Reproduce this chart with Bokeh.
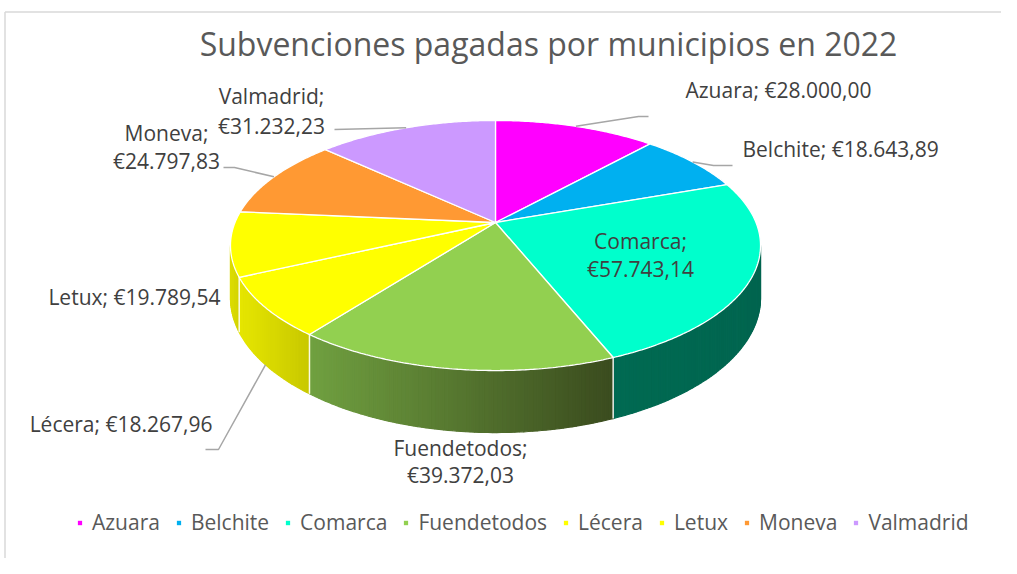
import numpy as np
from bokeh.plotting import figure
from bokeh.models import Range1d, ColumnDataSource, Legend, LegendItem
from bokeh.core.properties import value
from bokeh.embed import file_html
from bokeh.resources import INLINE

# ---------------- data ----------------
title_text = "Subvenciones pagadas por municipios en 2022"
municipios = ["Azuara", "Belchite", "Comarca", "Fuendetodos", "Lécera", "Letux", "Moneva", "Valmadrid"]
importes = [28000.00, 18643.89, 57743.14, 39372.03, 18267.96, 19789.54, 24797.83, 31232.23]

# ---------------- styles ----------------
top_colors = ["#FF00FF", "#00B0F0", "#00FFCC", "#92D050", "#FFFF00", "#FFFF00", "#FF9933", "#CC99FF"]
# side shading (left colour, right colour)
side_colors = [("#B000B0", "#B000B0"), ("#0078A8", "#0078A8"), ("#006A52", "#00654F"),
               ("#70A040", "#3A4B1E"), ("#E6E600", "#C8C800"), ("#DCDC00", "#D2D200"),
               ("#B86A20", "#B86A20"), ("#9A70C8", "#9A70C8")]
FONT = "Open Sans"
LABEL_COLOR = "#404040"
TEXT_GRAY = "#595959"
LEADER = "#A6A6A6"

# projection of the tilted pie (screen px, y downwards)
CX, CY = 495.0, 222.0
RX, RY = 260.5, 120.8
PERSP = 0.184
DEPTH = 50.6


def proj(phi_deg, r=1.0, down=0.0):
    ph = np.radians(phi_deg)
    u = r * np.sin(ph)
    v = r * np.cos(ph)
    s = 1.0 / (1.0 + PERSP * v)
    return CX + RX * u * s, CY - RY * v * s + down * DEPTH * s


def euro(v):
    s = f"{v:,.2f}"
    return "€" + s.replace(",", "X").replace(".", ",").replace("X", ".")


def mix(c1, c2, t):
    a = [int(c1[i:i + 2], 16) for i in (1, 3, 5)]
    b = [int(c2[i:i + 2], 16) for i in (1, 3, 5)]
    return "#%02x%02x%02x" % tuple(int(round(a[k] + (b[k] - a[k]) * t)) for k in range(3))


total = float(sum(importes))
cum = np.concatenate([[0.0], np.cumsum(importes)]) / total * 360.0
starts, ends = cum[:-1], cum[1:]
mids = (starts + ends) / 2

W, H = 1001, 558
p = figure(width=W, height=H, x_range=Range1d(0, W), y_range=Range1d(H, 0),
           x_axis_type=None, y_axis_type=None, toolbar_location=None,
           output_backend="svg", min_border=0, outline_line_color=None)
p.xgrid.visible = False
p.ygrid.visible = False

# chart frame (top and left edges visible)
p.line([4.5, W], [11.5, 11.5], line_color="#D9D9D9", line_width=1.5)
p.line([4.5, 4.5], [11.5, H], line_color="#D9D9D9", line_width=1.5)

# ---------------- sides ----------------
vis_a = np.degrees(np.arccos(-PERSP))
vis_b = 360.0 - vis_a
sx, sy, sc = [], [], []
sep_x, sep_y = [], []
for i in range(len(importes)):
    a, b = max(starts[i], vis_a), min(ends[i], vis_b)
    if b <= a:
        continue
    n = max(2, int((b - a) / 0.8))
    ph = np.linspace(a, b, n + 1)
    xa_all, _ = proj(ph)
    xmin, xmax = xa_all.min(), xa_all.max()
    for k in range(n):
        x0, y0 = proj(ph[k])
        x1, y1 = proj(ph[k + 1])
        x2, y2 = proj(ph[k + 1], down=1)
        x3, y3 = proj(ph[k], down=1)
        t = ((x0 + x1) / 2 - xmin) / max(xmax - xmin, 1e-6)
        sx.append([x0, x1, x2, x3])
        sy.append([y0, y1, y2, y3])
        sc.append(mix(side_colors[i][0], side_colors[i][1], t))
    if vis_a < starts[i] < vis_b:
        xa, ya = proj(starts[i])
        xb, yb = proj(starts[i], down=1)
        sep_x.append([xa, xb])
        sep_y.append([ya, yb])
p.patches(xs=sx, ys=sy, fill_color=sc, line_color=sc, line_width=1.2)
p.multi_line(xs=sep_x, ys=sep_y, line_color="white", line_width=1.5, line_alpha=0.9)

# ---------------- tops ----------------
tx, ty = [], []
for i in range(len(importes)):
    ph = np.linspace(starts[i], ends[i], max(3, int((ends[i] - starts[i]) / 0.5)))
    xs, ys = proj(ph)
    tx.append([CX] + list(xs))
    ty.append([CY] + list(ys))
top_src = ColumnDataSource(dict(xs=tx, ys=ty, color=top_colors))
tops = p.patches(xs="xs", ys="ys", fill_color="color", line_color="white", line_width=1.3, source=top_src)

# ---------------- labels (layout) ----------------
label_layout = {
    "Azuara": dict(lines=1, x=685, y=[89], align="left"),
    "Belchite": dict(lines=1, x=742, y=[148], align="left"),
    "Comarca": dict(lines=2, x=640, y=[240, 268], align="center"),
    "Fuendetodos": dict(lines=2, x=460, y=[447, 474], align="center"),
    "Lécera": dict(lines=1, x=212, y=[423], align="right"),
    "Letux": dict(lines=1, x=220, y=[296], align="right"),
    "Moneva": dict(lines=2, x=166, y=[132, 160], align="center"),
    "Valmadrid": dict(lines=2, x=271, y=[95, 125], align="center"),
}
lx, ly, lt, la = [], [], [], []
for name, v in zip(municipios, importes):
    L = label_layout[name]
    if L["lines"] == 1:
        texts = [f"{name}; {euro(v)}"]
    else:
        texts = [f"{name};", euro(v)]
    for t, yy in zip(texts, L["y"]):
        lx.append(L["x"]); ly.append(yy); lt.append(t); la.append(L["align"])
lab_src = ColumnDataSource(dict(x=lx, y=ly, text=lt, align=la))
p.text(x="x", y="y", text="text", text_align="align", text_baseline="alphabetic",
       text_font=value(FONT), text_font_size="21px", text_color=LABEL_COLOR, source=lab_src)

# leader lines: start at slice edge midpoint, then elbow and end (layout)
leader_layout = {
    "Azuara": [(638, 116), (648, 116)],
    "Belchite": [(713, 165), (732, 165)],
    "Lécera": [(218, 449), (205, 449)],
    "Moneva": [(234, 167), (223, 167)],
    "Valmadrid": [(334, 129)],
}
ld_x, ld_y = [], []
for i, name in enumerate(municipios):
    if name not in leader_layout:
        continue
    down = 1 if vis_a < mids[i] < vis_b else 0
    x0, y0 = proj(mids[i], down=down)
    pts = [(x0, y0)] + leader_layout[name]
    ld_x.append([q[0] for q in pts])
    ld_y.append([q[1] for q in pts])
p.multi_line(xs=ld_x, ys=ld_y, line_color=LEADER, line_width=1.5)

# ---------------- title ----------------
p.text(x=[548], y=[43], text=[title_text], text_align="center", text_baseline="alphabetic",
       text_font=value(FONT), text_font_size="32px", text_color=TEXT_GRAY)

# ---------------- legend ----------------
items = [LegendItem(label=n, renderers=[tops], index=i) for i, n in enumerate(municipios)]
legend = Legend(items=items, orientation="horizontal", location=(76, 22),
                glyph_width=7, glyph_height=7, label_standoff=9, spacing=15,
                label_text_font=FONT, label_text_font_size="21px", label_text_color=TEXT_GRAY,
                label_height=20, background_fill_alpha=0, border_line_alpha=0,
                padding=0, margin=0)
p.add_layout(legend, "center")

open("out.html", "w").write(file_html(p, INLINE))
